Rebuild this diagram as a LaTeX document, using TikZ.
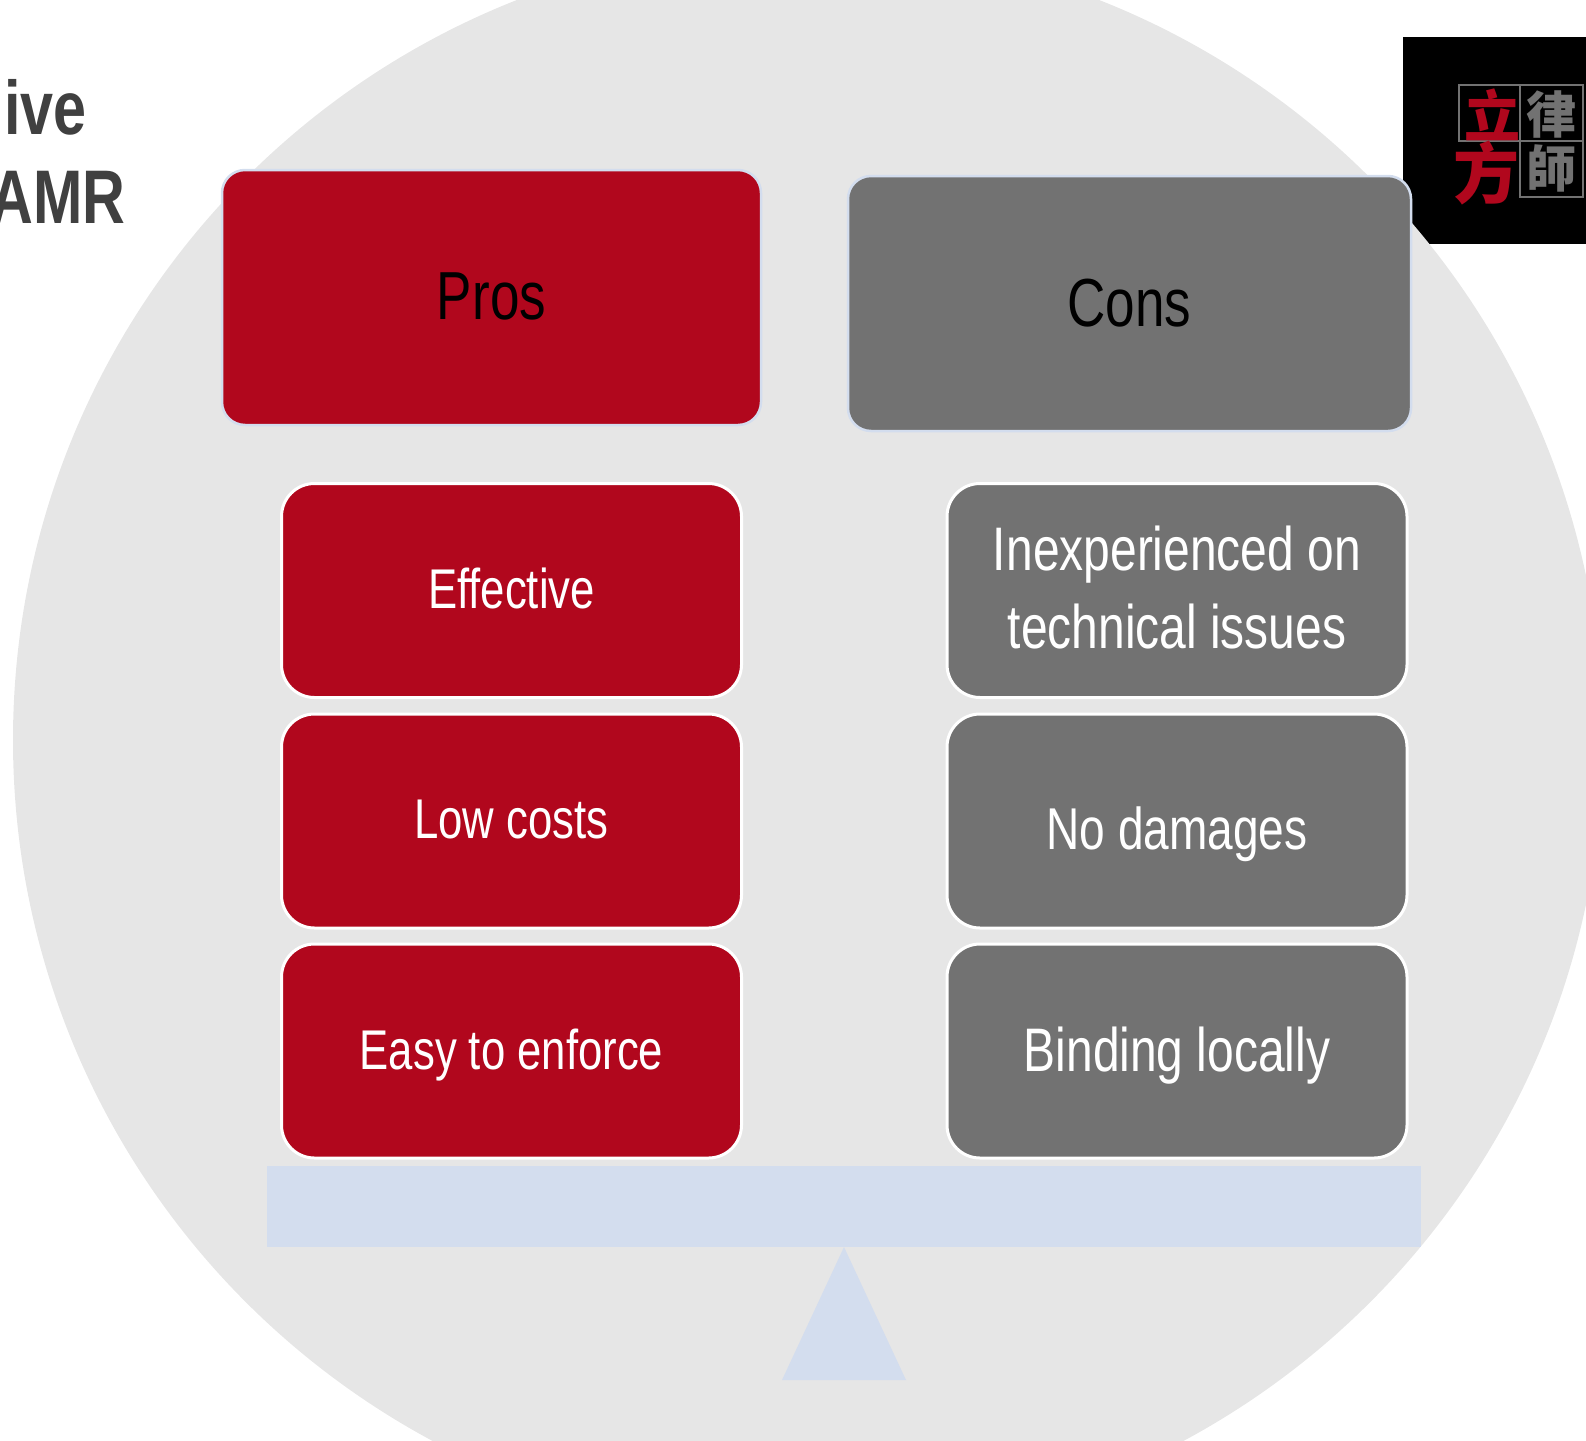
\documentclass[tikz,border=0pt]{standalone}
\usepackage{fontspec}
\setmainfont[FakeStretch=0.78]{Liberation Sans}
\newfontfamily\cjk{Noto Sans CJK TC}
\usepackage{xcolor}
\definecolor{lawred}{HTML}{B1071D}
\definecolor{lawgrey}{HTML}{727272}
\definecolor{discgrey}{HTML}{E6E6E6}
\definecolor{beamblue}{HTML}{D3DDEE}
\begin{document}
\begin{tikzpicture}[x=1pt,y=-1pt,
                grp/.style n args={3}{fill=#1,
                    minimum width=#2pt,
                    minimum height=#3pt,
                    inner sep=0pt,
                    rectangle,draw},
                head/.style 2 args={grp={#1}{#2}{255},draw=beamblue,text=black,line width=2.5pt,
                    rounded corners=23pt,font=\fontsize{68}{78}\selectfont},
                item/.style={grp={#1}{460}{214},draw=white,text=white,align=center,line width=3pt,
                    rounded corners=33pt,font=\fontsize{56}{78}\selectfont},
                bigtext/.style={font=\fontsize{#1}{78}\selectfont},
                seal/.style={inner sep=0pt,font=\cjk\bfseries\fontsize{#1}{#1}\selectfont},
                titletext/.style={anchor=base east,inner sep=0pt,text=black!75,font=\bfseries\fontsize{76}{76}\selectfont}]
    \useasboundingbox (0,0) rectangle (1586,1440);
    \clip (0,0) rectangle (1586,1440);
    % logo
    \fill[black] (1403,37) rectangle (1586,244);
    \draw[lawgrey,line width=1.5pt] (1459,85) rectangle (1583,141);
    \draw[lawgrey,line width=1.5pt] (1520,85) -- (1520,197) -- (1583,197) -- (1583,141);
    \node[seal=56,text=lawred] (li) at (1492,115) {立};
    \node[seal=66,text=lawred] (fang) at (1486,173) {方};
    \node[seal=50,text=lawgrey] (lv) at (1551,114) {律};
    \node[seal=50,text=lawgrey] (shi) at (1551,168) {師};
    \fill[discgrey] (808,740) circle (795);
    % title
    \node[titletext] (title1) at (87,134) {ive};
    \node[titletext] (title2) at (126,223) {AMR};
    % balance
    \fill[beamblue] (267,1166) rectangle (1421,1247);
    \fill[beamblue] (844,1247) -- (906,1380) -- (782,1380) -- cycle;
    % headers
    \node[head={lawred}{539},text depth=2pt] (pros) at (491.5,297.5) {Pros};
    \node[head={lawgrey}{563},text depth=2pt] (cons) at (1129.5,303.5) {Cons};
    % pros
    \node[item=lawred,text depth=4pt] (p1) at (511.5,590.5) {Effective};
    \node[item=lawred,text depth=4pt] (p2) at (511.5,821) {Low costs};
    \node[item=lawred,text height=49pt] (p3) at (511.5,1051) {Easy to enforce};
    % cons
    \node[item=lawgrey,bigtext=61.5,text depth=6pt] (c1) at (1177,590.5) {Inexperienced on\\technical issues};
    \node[item=lawgrey,bigtext=59,text height=70pt] (c2) at (1177,821) {No damages};
    \node[item=lawgrey,bigtext=61.5,text height=54pt] (c3) at (1177,1051) {Binding locally};
\end{tikzpicture}
\end{document}
